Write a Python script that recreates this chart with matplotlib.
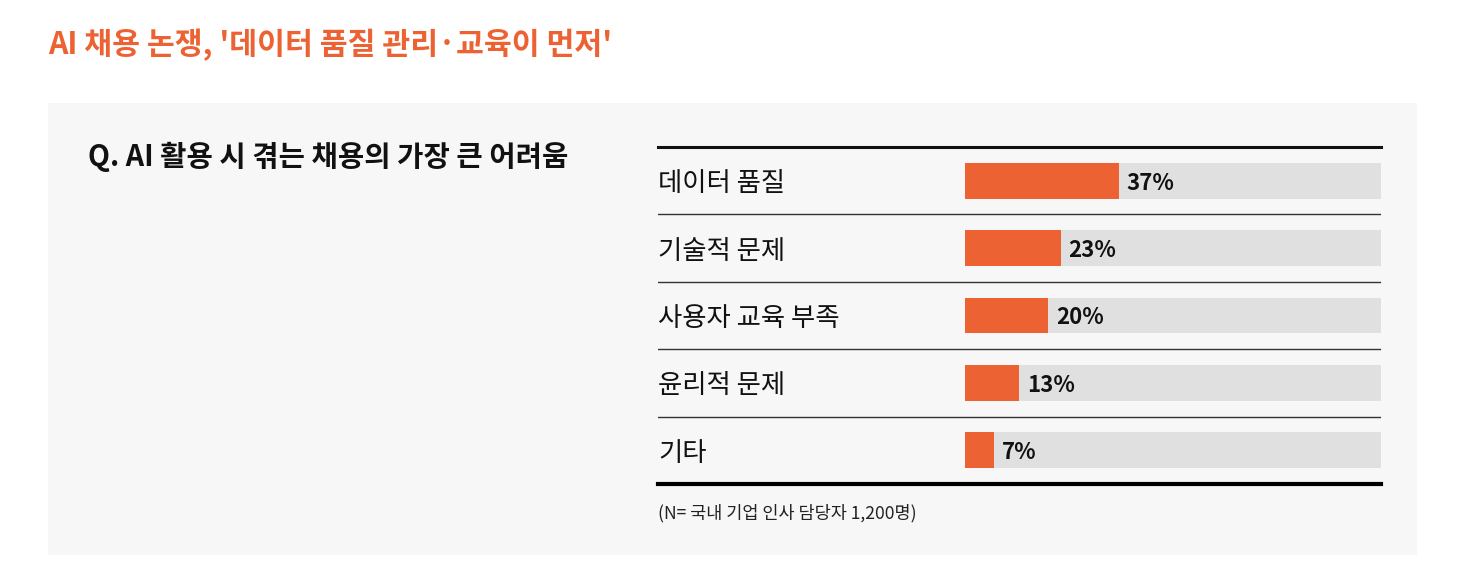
import matplotlib.pyplot as plt
from matplotlib.patches import Rectangle

plt.rcParams["font.family"] = ["Noto Sans CJK KR", "DejaVu Sans"]

TITLE = "AI 채용 논쟁, '데이터 품질 관리·교육이 먼저'"
QUESTION = "Q. AI 활용 시 겪는 채용의 가장 큰 어려움"
NOTE = "(N= 국내 기업 인사 담당자 1,200명)"

categories = ["데이터 품질", "기술적 문제", "사용자 교육 부족", "윤리적 문제", "기타"]
values = [37, 23, 20, 13, 7]

ORANGE = "#ec6232"
TRACK = "#e0e0e0"
PANEL = "#f7f7f7"

W, H = 1464, 588
fig = plt.figure(figsize=(W / 100, H / 100), dpi=100)
fig.patch.set_facecolor("white")


def fx(px):
    return px / W


def fy(py):
    return 1 - py / H


# gray panel behind the chart
fig.patches.append(Rectangle((fx(48), fy(555)), fx(1417) - fx(48), fy(103) - fy(555),
                             transform=fig.transFigure, facecolor=PANEL, edgecolor="none", zorder=-5))

fig.text(fx(48), fy(45), TITLE, color=ORANGE, fontsize=21.8, fontweight="bold", va="center", ha="left")
fig.text(fx(88), fy(157), QUESTION, color="#111111", fontsize=20.6, fontweight="bold", va="center", ha="left")

# chart axes: spans the label column and the bar track
left, right, top, bottom = 658, 1381, 147, 484
ax = fig.add_axes([fx(left), fy(bottom), fx(right) - fx(left), fy(top) - fy(bottom)], zorder=2)
ax.patch.set_alpha(0)
bar_start = 965
scale = (right - bar_start) / 100.0
ax.set_xlim(-(bar_start - left) / scale, 100)
ax.set_ylim(len(categories), 0)
ax.axis("off")

ypos = [i + 0.5 for i in range(len(categories))]
bh = 0.53
ax.barh(ypos, [100] * len(values), height=bh, color=TRACK, left=0)
ax.barh(ypos, values, height=bh, color=ORANGE, left=0)

x0 = ax.get_xlim()[0]
for y, cat, v in zip(ypos, categories, values):
    ax.text(x0, y, cat, fontsize=19, color="#111111", va="center_baseline", ha="left")
    ax.text(v + 1.9, y, f"{v}%", fontsize=16, fontweight="bold", color="#111111",
            va="center_baseline", ha="left")

for i in range(1, len(categories)):
    ax.axhline(i, color="#333333", linewidth=1.0)
ax.axhline(0, color="#111111", linewidth=2.2, clip_on=False)
ax.axhline(len(categories), color="#000000", linewidth=3.0, clip_on=False)

fig.text(fx(658), fy(513), NOTE, color="#222222", fontsize=12.6, va="center", ha="left")

fig.savefig("out.png", dpi=100, facecolor=fig.get_facecolor())
